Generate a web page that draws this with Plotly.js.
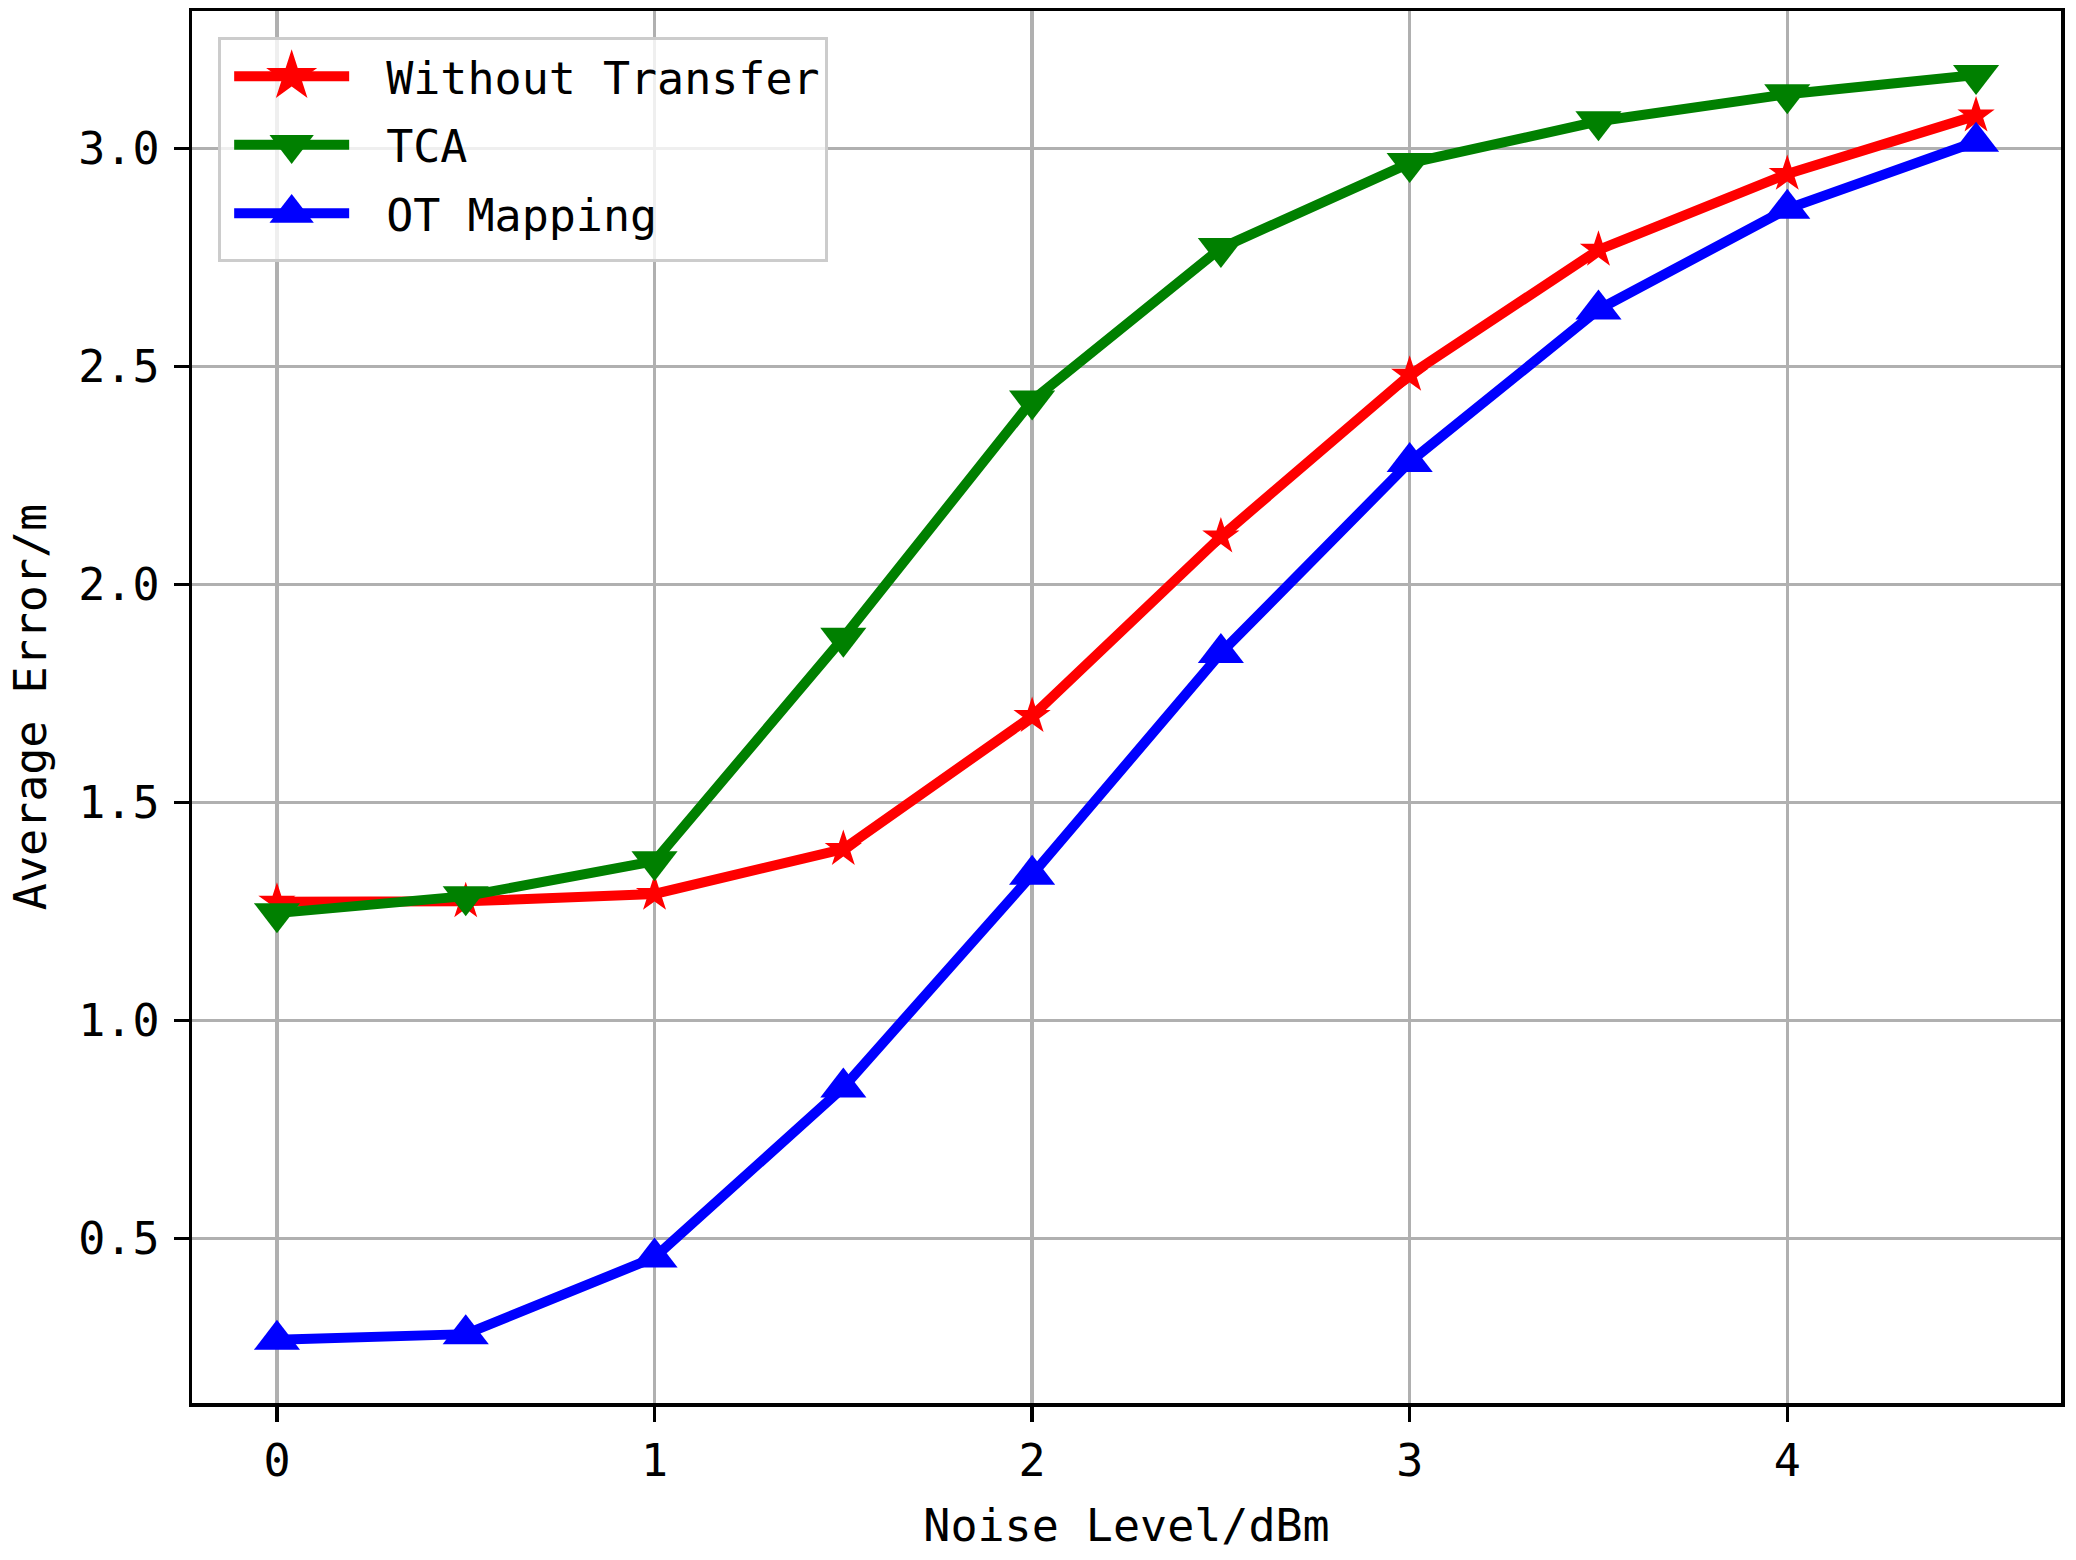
<!DOCTYPE html>
<html>
<head>
<meta charset="utf-8">
<script src="https://cdn.plot.ly/plotly-3.0.1.min.js"></script>
<style>html,body{margin:0;padding:0;background:#fff;}</style>
</head>
<body>
<div id="chart" style="width:2076px;height:1560px;"></div>
<script>
const noiseLevel = [0, 0.5, 1, 1.5, 2, 2.5, 3, 3.5, 4, 4.5];
const withoutTransfer = [1.272, 1.273, 1.290, 1.393, 1.698, 2.110, 2.481, 2.768, 2.942, 3.076];
const tca = [1.246, 1.285, 1.365, 1.878, 2.422, 2.772, 2.967, 3.063, 3.125, 3.169];
const otMapping = [0.267, 0.280, 0.456, 0.846, 1.334, 1.843, 2.281, 2.631, 2.862, 3.016];
const seriesNames = ["Without Transfer", "TCA", "OT Mapping"];
const xTicks = [0, 1, 2, 3, 4];
const yTicks = [0.5, 1.0, 1.5, 2.0, 2.5, 3.0];

const FONT = "DejaVu Sans Mono, Liberation Mono, monospace";

function trace(y, name, color, symbol, size, group) {
  return {
    x: noiseLevel, y: y, name: name, type: "scatter", mode: "lines+markers",
    legendgroup: group,
    line: {color: color, width: 10},
    marker: {color: color, symbol: symbol, size: size, line: {width: 0}}
  };
}

const data = [
  trace(withoutTransfer, seriesNames[0], "#ff0000", "star", 28, "a"),
  trace(tca, seriesNames[1], "#008000", "triangle-down", 40, "b"),
  trace(otMapping, seriesNames[2], "#0000ff", "triangle-up", 40, "c")
];

const axisCommon = {
  showline: true, mirror: true, linecolor: "#000", linewidth: 3.5,
  ticks: "outside", ticklen: 15, tickwidth: 3.3, tickcolor: "#000",
  showgrid: true, gridcolor: "#b0b0b0", gridwidth: 3.3,
  zeroline: false,
  tickfont: {family: FONT, size: 45, color: "#000"}
};

const layout = {
  width: 2076, height: 1560,
  paper_bgcolor: "#fff", plot_bgcolor: "#fff",
  margin: {l: 192, r: 15, t: 11, b: 157},
  font: {family: FONT, color: "#000"},
  xaxis: Object.assign({}, axisCommon, {
    range: [-0.225, 4.725],
    tickvals: xTicks,
    tickformat: "d",
    title: {text: "Noise Level/dBm", font: {family: FONT, size: 45, color: "#000"}, standoff: 25}
  }),
  yaxis: Object.assign({}, axisCommon, {
    range: [0.122, 3.316],
    tickvals: yTicks,
    tickformat: ".1f",
    ticklabelstandoff: 5,
    automargin: true,
    title: {text: "Average Error/m", font: {family: FONT, size: 45, color: "#000"}, standoff: 18}
  }),
  showlegend: true,
  legend: {
    x: 0.014, y: 0.981, xanchor: "left", yanchor: "top",
    bgcolor: "rgba(255,255,255,0.8)", bordercolor: "#cccccc", borderwidth: 3,
    font: {family: FONT, size: 45, color: "#000"},
    itemwidth: 155, tracegroupgap: 7, traceorder: "grouped"
  }
};

Plotly.newPlot("chart", data, layout, {displayModeBar: false, staticPlot: true}).then(function (gd) {
  // cosmetic legend tweaks: shorter sample line with a gap before the label,
  // larger legend markers (Plotly caps legend marker size)
  gd.querySelectorAll(".legend g.traces").forEach(function (item) {
    const txt = item.querySelector("text.legendtext");
    if (!txt) return;
    const T = parseFloat(txt.getAttribute("x") || "0");
    const lineLen = 115, gap = 37;
    const start = T - gap - lineLen;
    const center = start + lineLen / 2;
    item.querySelectorAll(".legendlines path").forEach(function (p) {
      p.setAttribute("d", "M" + start + ",0h" + lineLen);
    });
    item.querySelectorAll(".legendpoints path.scatterpts").forEach(function (p) {
      p.setAttribute("transform", "translate(" + center + ",0) scale(2.4)");
    });
  });
  const bg = gd.querySelector(".legend rect.bg");
  if (bg) bg.setAttribute("height", parseFloat(bg.getAttribute("height")) + 10);
});
</script>
</body>
</html>
